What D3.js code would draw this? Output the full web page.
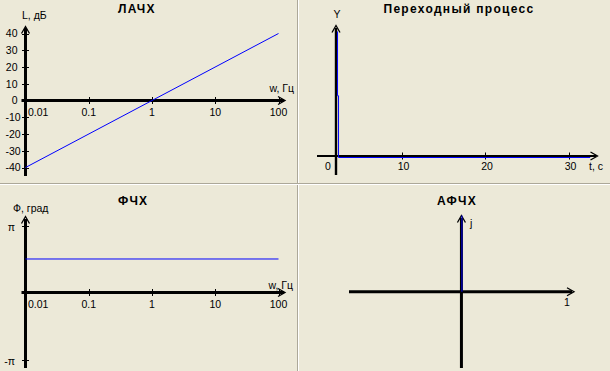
<!DOCTYPE html>
<html><head><meta charset="utf-8">
<script src="https://cdn.jsdelivr.net/npm/d3@7"></script>
<style>
body{margin:0;background:#ECE9D8;}
svg{display:block;}
text{font-family:"Liberation Sans",Arial,sans-serif;font-size:10.5px;fill:#000;}
.title{font-weight:bold;font-size:12px;letter-spacing:1.3px;}
</style>
</head><body>
<svg id="c" width="610" height="371"></svg>
<script>
// ---- data ----
const titles = ["ЛАЧХ", "Переходный процесс", "ФЧХ", "АФЧХ"];
const freqTicks = [0.01, 0.1, 1, 10, 100];
const freqTickLabels = ["0.01", "0.1", "1", "10", "100"];
const dbTicks = [-40, -30, -20, -10, 0, 10, 20, 30, 40];
const lachFreq = [0.01, 100];
const lachDb = [-40, 40];
const phaseTicks = [3.1416, -3.1416];
const phaseTickLabels = ["π", "-π"];
const phaseFreq = [0.01, 100];
const phaseVal = [1.571, 1.571];
const timeTicks = [10, 20, 30];
const transT = [2.34, 2.34, 2.46, 2.46, 32.6];
const transY = [1, 0.49, 0.49, 0, 0];
const afcRe = [0, 0];
const afcIm = [0, 1];

const svg = d3.select("#c");
const BLUE = "#0000FF";

function axisLine(g, x1, y1, x2, y2, w) {
  g.append("line").attr("x1", x1).attr("y1", y1).attr("x2", x2).attr("y2", y2)
    .attr("stroke", "#000").attr("stroke-width", w || 3);
}
function arrowUp(g, x, tip) {
  g.append("path").attr("d", `M${x-4},${tip+7}L${x},${tip}L${x+4},${tip+7}`)
    .attr("fill", "none").attr("stroke", "#000").attr("stroke-width", 1.3);
}
function arrowRight(g, tip, y) {
  g.append("path").attr("d", `M${tip-7},${y-4}L${tip},${y}L${tip-7},${y+4}`)
    .attr("fill", "none").attr("stroke", "#000").attr("stroke-width", 1.3);
}
function text(g, x, y, s, anchor, cls) {
  const t = g.append("text").attr("x", x).attr("y", y).attr("text-anchor", anchor || "start").text(s);
  if (cls) t.attr("class", cls);
  return t;
}

// ---- dividers ----
svg.append("line").attr("x1", 297.5).attr("x2", 297.5).attr("y1", 0).attr("y2", 371).attr("stroke", "#ACA899");
svg.append("line").attr("x1", 298.5).attr("x2", 298.5).attr("y1", 0).attr("y2", 371).attr("stroke", "#FFFFFF");
svg.append("line").attr("x1", 0).attr("x2", 610).attr("y1", 183.5).attr("y2", 183.5).attr("stroke", "#ACA899");
svg.append("line").attr("x1", 0).attr("x2", 610).attr("y1", 184.5).attr("y2", 184.5).attr("stroke", "#FFFFFF");

// ---- Panel 1: ЛАЧХ ----
{
  const g = svg.append("g");
  const x = d3.scaleLog().domain([0.01, 100]).range([25.5, 278.5]);
  const y = d3.scaleLinear().domain([-40, 40]).range([167.5, 33.5]);
  const ax = x(0.01), ay = y(0);
  text(g, 118, 12.5, titles[0], "start", "title");
  text(g, 22, 18.5, "L, дБ");
  axisLine(g, ax, 28, ax, 176);
  arrowUp(g, ax, 26.5);
  dbTicks.forEach(v => {
    g.append("line").attr("x1", ax - 3.5).attr("x2", ax + 3.5).attr("y1", Math.round(y(v)) + 0.5).attr("y2", Math.round(y(v)) + 0.5).attr("stroke", "#000");
    if (v >= 0) text(g, 17.5, y(v) + 3.8, String(v), "end");
    else text(g, 5.5, y(v) + 3.8, String(v), "start");
  });
  axisLine(g, 21.5, ay, 284, ay);
  arrowRight(g, 285, ay);
  freqTicks.forEach((v, i) => {
    const px = Math.round(x(v)) + 0.5;
    if (i > 0) g.append("line").attr("x1", px).attr("x2", px).attr("y1", ay - 3.5).attr("y2", ay + 3.5).attr("stroke", "#000");
    if (i === 0) text(g, ax + 2.5, ay + 15, freqTickLabels[i], "start");
    else text(g, x(v), ay + 15, freqTickLabels[i], "middle");
  });
  text(g, 294, 91.5, "w, Гц", "end");
  const line = d3.line().x(d => x(d[0])).y(d => y(d[1]));
  g.append("path").attr("d", line(d3.zip(lachFreq, lachDb))).attr("fill", "none").attr("stroke", BLUE).attr("stroke-width", 1);
}

// ---- Panel 2: Переходный процесс ----
{
  const g = svg.append("g");
  const x = d3.scaleLinear().domain([0, 30]).range([318, 568.5]);
  const y = d3.scaleLinear().domain([0, 1]).range([157.5, 31.5]);
  const ay = 156;
  const axX = 336;
  text(g, 459, 12.5, titles[1], "middle", "title");
  text(g, 337, 17.5, "Y", "middle");
  axisLine(g, axX, 28, axX, 175, 2.4);
  arrowUp(g, axX, 25.5);
  axisLine(g, x(0) - 1, ay, 596, ay, 2);
  arrowRight(g, 597.5, ay);
  timeTicks.forEach(v => {
    const px = Math.round(x(v)) + 0.5;
    g.append("line").attr("x1", px).attr("x2", px).attr("y1", ay - 3.5).attr("y2", ay + 3.5).attr("stroke", "#000");
    text(g, x(v) + 2, ay + 14, String(v), "middle");
  });
  text(g, 328, ay + 14, "0", "middle");
  text(g, 589, ay + 14, "t, c", "start");
  const line = d3.line().x(d => x(d[0])).y(d => y(d[1]));
  g.append("path").attr("d", line(d3.zip(transT, transY))).attr("fill", "none").attr("stroke", BLUE).attr("stroke-width", 1);
}

// ---- Panel 3: ФЧХ ----
{
  const g = svg.append("g");
  const x = d3.scaleLog().domain([0.01, 100]).range([25.5, 278.5]);
  const y = d3.scaleLinear().domain([-3.1416, 3.1416]).range([359.5, 225.5]);
  const ax = x(0.01), ay = y(0);
  text(g, 118, 204.5, titles[2], "start", "title");
  text(g, 13, 211.5, "Ф, град");
  axisLine(g, ax, 219, ax, 368);
  arrowUp(g, ax, 216.5);
  phaseTicks.forEach((v, i) => {
    g.append("line").attr("x1", ax - 3.5).attr("x2", ax + 3.5).attr("y1", Math.round(y(v)) + 0.5).attr("y2", Math.round(y(v)) + 0.5).attr("stroke", "#000");
    text(g, 15, y(v) + 5, phaseTickLabels[i], "end");
  });
  axisLine(g, 21.5, ay, 284, ay);
  arrowRight(g, 285, ay);
  freqTicks.forEach((v, i) => {
    const px = Math.round(x(v)) + 0.5;
    if (i > 0) g.append("line").attr("x1", px).attr("x2", px).attr("y1", ay - 3.5).attr("y2", ay + 3.5).attr("stroke", "#000");
    if (i === 0) text(g, ax + 2.5, ay + 15, freqTickLabels[i], "start");
    else text(g, x(v), ay + 15, freqTickLabels[i], "middle");
  });
  text(g, 293, 288.5, "w, Гц", "end");
  const line = d3.line().x(d => x(d[0])).y(d => y(d[1]));
  g.append("path").attr("d", line(d3.zip(phaseFreq, phaseVal))).attr("fill", "none").attr("stroke", BLUE).attr("stroke-width", 1);
}

// ---- Panel 4: АФЧХ ----
{
  const g = svg.append("g");
  const x = d3.scaleLinear().domain([-1.06, 1.066]).range([349.5, 574]);
  const y = d3.scaleLinear().domain([-1, 1]).range([368, 215.5]);
  const ax = x(0), ay = y(0);
  text(g, 457, 205, titles[3], "middle", "title");
  axisLine(g, ax, 218, ax, 368);
  arrowUp(g, ax, 215.5);
  axisLine(g, 349, ay, 572, ay);
  arrowRight(g, 574, ay);
  text(g, 470, 227, "j", "start");
  text(g, 567, 306, "1", "middle");
  const line = d3.line().x(d => x(d[0]) + 0.5).y(d => y(d[1]));
  g.append("path").attr("d", line(d3.zip(afcRe, afcIm))).attr("fill", "none").attr("stroke", BLUE).attr("stroke-width", 1);
}
</script>
</body></html>
